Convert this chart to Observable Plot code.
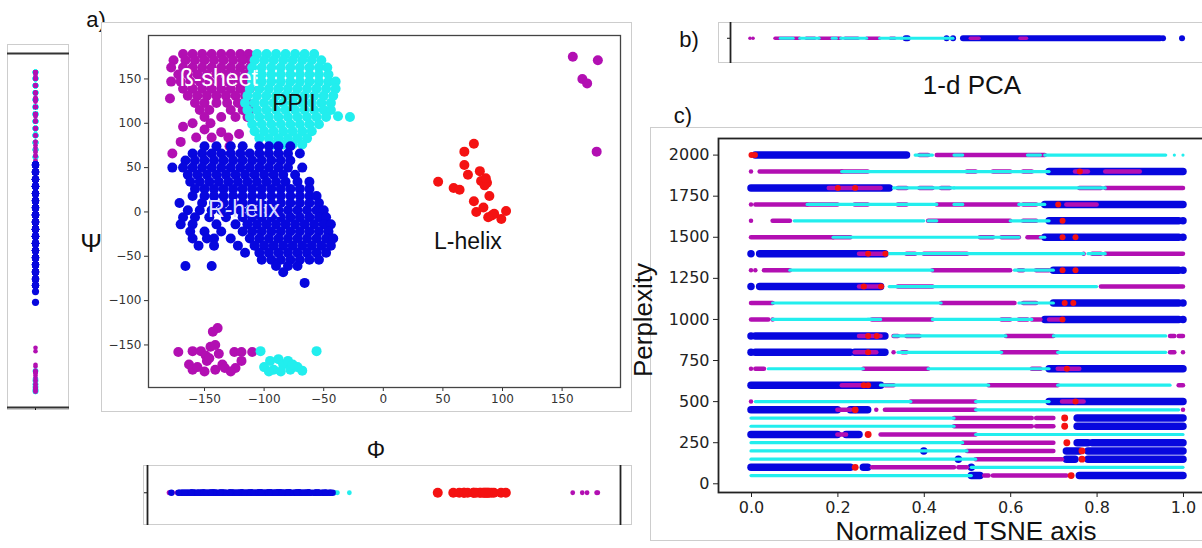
<!DOCTYPE html>
<html><head><meta charset="utf-8">
<script src="https://cdn.jsdelivr.net/npm/d3@7"></script>
<script src="https://cdn.jsdelivr.net/npm/@observablehq/plot@0.6"></script>
<style>
body{margin:0;background:#fff}
#fig{position:relative;width:1202px;height:548px;overflow:hidden;background:#fff;font-family:"Liberation Sans",Arial,Helvetica,sans-serif;color:#111}
.box{position:absolute;border:1px solid #cdcdcd;box-sizing:border-box;background:#fff}
.abs{position:absolute;line-height:0}
.abs svg{max-width:none !important}
.lbl{position:absolute;white-space:nowrap;line-height:1;transform:translate(-50%,-50%)}
</style></head><body><div id="fig"></div>
<script>
// ---------- colours per class ----------
const classColor = {B: "#b20fb2", P: "#22eeee", R: "#0707de", L: "#f41212"};

// ---------- panel a: Ramachandran (phi, psi) points ----------
// dense regions read row by row: [psi, [phi values]]
const betaRows = [
 [178, [-168,-160,-152,-144,-136,-128,-120,-113]],
 [171, [-176,-166,-158,-150,-142,-134,-126,-118,-111]],
 [163, [-178,-168,-160,-152,-144,-136,-128,-120,-112]],
 [155, [-172,-164,-156,-148,-140,-132,-124,-116]],
 [147, [-178,-170,-162,-154,-146,-138,-130,-122,-114]],
 [139, [-168,-160,-152,-144,-136,-128,-120,-112]],
 [131, [-164,-156,-148,-140,-132,-124,-116]],
 [123, [-158,-150,-140,-131,-122,-114]],
 [115, [-154,-146,-128,-118,-112]],
 [107, [-150,-136,-124,-114]]
];
const betaExtra = [[-179,128],[-177,66],[-170,79],[-168,96],[-160,100],[-157,84],[-150,93],[-144,84],[-136,90],[-130,84],[-121,88],[-129,74],[-145,100],
 [159,175],[180,171],[167,150],[171,145],[179,68],
 [-172,-158],[-160,-157],[-153,-157],[-149,-162],[-145,-152],[-141,-150],[-139,-131],[-143,-135],[-148,-168],[-141,-178],[-150,-180],[-160,-178],
 [-163,-172],[-156,-175],[-135,-172],[-133,-176],[-125,-158],[-119,-158],[-110,-158],[-119,-168],[-124,-176],[-128,-180],[-146,-165],[-138,-160]];
const ppiiRows = [
 [178, [-106,-98,-90,-82,-74,-66,-58]],
 [171, [-108,-100,-92,-84,-76,-68,-60,-52]],
 [163, [-110,-102,-94,-86,-78,-70,-62,-54,-47]],
 [155, [-110,-102,-94,-86,-78,-70,-62,-54,-46]],
 [147, [-110,-102,-94,-86,-78,-70,-62,-54,-46,-40]],
 [139, [-112,-104,-96,-88,-80,-72,-64,-56,-48,-40]],
 [131, [-114,-106,-98,-90,-82,-74,-66,-58,-50,-42]],
 [123, [-116,-108,-100,-92,-84,-76,-68,-60,-52,-44]],
 [115, [-114,-106,-98,-90,-82,-74,-66,-58,-50,-44]],
 [107, [-112,-104,-96,-88,-80,-72,-64,-56,-48]],
 [99, [-110,-102,-94,-86,-78,-70,-62,-54]],
 [91, [-108,-100,-92,-84,-76,-68,-60]],
 [83, [-104,-96,-88,-80,-72,-64]],
 [76, [-92,-84,-76,-68]]
];
const ppiiExtra = [[-38,108],[-28,107],
 [-103,-157],[-100,-175],[-95,-168],[-92,-178],[-88,-166],[-84,-172],[-80,-168],[-78,-178],[-72,-175],[-68,-179],[-86,-180],[-96,-180],[-76,-172],[-56,-157]];
const rhelixRows = [
 [74, [-150,-140,-128,-118,-104,-96,-88,-78]],
 [66, [-160,-152,-144,-136,-128,-120,-112,-104,-96,-88,-80,-70]],
 [58, [-166,-158,-150,-142,-134,-126,-118,-110,-102,-94,-86,-78]],
 [50, [-177,-168,-160,-152,-144,-136,-128,-120,-112,-104,-96,-88,-80,-68]],
 [42, [-164,-156,-148,-140,-132,-124,-116,-108,-100,-92,-84,-74]],
 [34, [-162,-154,-146,-138,-130,-122,-114,-106,-98,-90,-82,-72,-62]],
 [26, [-158,-150,-142,-134,-126,-118,-110,-102,-94,-86,-78,-70,-62]],
 [18, [-160,-150,-142,-134,-126,-118,-110,-102,-94,-86,-78,-70,-62,-56]],
 [10, [-171,-152,-142,-134,-126,-118,-110,-102,-94,-86,-78,-70,-62,-54]],
 [2, [-164,-154,-144,-136,-128,-120,-112,-104,-96,-88,-80,-72,-64,-56,-50]],
 [-6, [-168,-158,-146,-132,-118,-110,-102,-94,-86,-78,-70,-62,-54,-48]],
 [-14, [-170,-160,-140,-124,-114,-106,-98,-90,-82,-74,-66,-58,-50,-44]],
 [-22, [-162,-150,-136,-118,-110,-102,-94,-86,-78,-70,-62,-54,-46]],
 [-30, [-160,-148,-142,-128,-112,-104,-96,-88,-80,-72,-64,-56,-48,-42]],
 [-38, [-155,-142,-122,-108,-100,-92,-84,-76,-68,-60,-52,-44]],
 [-46, [-116,-104,-96,-88,-80,-72,-64,-56,-48]],
 [-54, [-102,-94,-86,-78,-70,-62,-54]],
 [-61, [-166,-144,-90,-80,-72]],
 [-68, [-84]],
 [-80, [-66]]
];
const lhelixPoints = [[46,34],[59,27],[64,25],[68,68],[76,77],[68,53],[71,42],[81,46],[82,35],[85,30],[87,33],[89,18],[76,12],[78,0],[84,5],[91,-4],[93,-2],[99,-8],[103,1],[88,-6],[86,38]];

const regionLabels = [
 {text: "ß-sheet", phi: -138, psi: 150, tone: "light"},
 {text: "PPII", phi: -75, psi: 122, tone: "dark"},
 {text: "R-helix", phi: -117, psi: 3, tone: "pale"},
 {text: "L-helix", phi: 71, psi: -33, tone: "dark"}
];
const phiTicks = [-150,-100,-50,0,50,100,150];
const psiTicks = [-150,-100,-50,0,50,100,150];

// ---------- panel b: 1-d PCA segments [start, end, class] ----------
const pcaSegments = [
 [-1.0,-1.0,"B"],[-0.986,-0.986,"B"],
 [-0.884,-0.77,"B"],[-0.86,-0.8,"P"],[-0.77,-0.68,"P"],[-0.74,-0.7,"B"],[-0.68,-0.58,"B"],[-0.62,-0.6,"P"],
 [-0.58,-0.46,"P"],[-0.56,-0.5,"B"],[-0.46,-0.4,"B"],[-0.4,-0.3,"P"],[-0.35,-0.33,"B"],[-0.3,-0.06,"P"],
 [-0.28,-0.27,"R"],[-0.09,-0.09,"R"],[-0.06,-0.06,"R"],[-0.014,0.898,"R"],[0.02,0.06,"B"],[0.25,0.28,"B"],
 [0.912,0.912,"R"],[1.0,1.0,"R"]
];

// ---------- panel c: TSNE rows [perplexity, start, end, class] ----------
const perplexityTicks = [0,250,500,750,1000,1250,1500,1750,2000];
const tsneTicks = [0,0.2,0.4,0.6,0.8,1.0];
const tsneSegments = [
 [2000,0.01,0.36,"R"],[2000,0.38,0.42,"P"],[2000,0.39,0.41,"B"],[2000,0.43,0.68,"B"],[2000,0.47,0.49,"P"],[2000,0.64,0.67,"P"],[2000,0.68,0.96,"P"],[2000,0.98,0.98,"P"],[2000,1.0,1.0,"P"],
 [1900,0,0,"B"],[1900,0.02,0.21,"B"],[1900,0.21,0.27,"B"],[1900,0.21,0.69,"P"],[1900,0.5,0.52,"B"],[1900,0.56,0.6,"B"],[1900,0.63,0.65,"B"],[1900,0.69,1.0,"R"],[1900,0.75,0.78,"B"],[1900,0.82,0.9,"B"],
 [1800,0,0.32,"R"],[1800,0.18,0.3,"B"],[1800,0.33,0.47,"P"],[1800,0.34,0.36,"B"],[1800,0.39,0.42,"B"],[1800,0.44,0.46,"B"],[1800,0.47,0.82,"P"],[1800,0.76,0.81,"B"],[1800,0.82,1.0,"B"],
 [1700,0,0,"B"],[1700,0.01,0.13,"B"],[1700,0.13,0.43,"P"],[1700,0.13,0.2,"B"],[1700,0.24,0.27,"B"],[1700,0.34,0.36,"B"],[1700,0.43,0.62,"B"],[1700,0.47,0.49,"P"],[1700,0.62,0.68,"P"],[1700,0.63,0.66,"B"],[1700,0.68,1.0,"R"],[1700,0.73,0.8,"B"],
 [1600,0,0,"B"],[1600,0.05,0.09,"B"],[1600,0.1,0.4,"P"],[1600,0.41,0.6,"B"],[1600,0.41,0.43,"P"],[1600,0.6,0.69,"P"],[1600,0.63,0.66,"B"],[1600,0.69,0.99,"R"],[1600,1.0,1.0,"R"],
 [1500,0,0.19,"B"],[1500,0.19,0.23,"B"],[1500,0.19,0.62,"P"],[1500,0.53,0.56,"B"],[1500,0.58,0.62,"B"],[1500,0.64,0.67,"B"],[1500,0.67,0.68,"P"],[1500,0.68,0.99,"R"],[1500,1.0,1.0,"R"],
 [1400,0,0,"R"],[1400,0.02,0.31,"R"],[1400,0.25,0.31,"B"],[1400,0.32,0.77,"P"],[1400,0.36,0.38,"B"],[1400,0.4,0.5,"B"],[1400,0.77,0.77,"B"],[1400,0.78,0.82,"P"],[1400,0.79,0.81,"B"],[1400,0.82,1.0,"B"],
 [1300,0,0,"B"],[1300,0.01,0.01,"B"],[1300,0.03,0.09,"B"],[1300,0.09,0.42,"P"],[1300,0.42,0.6,"B"],[1300,0.61,0.7,"P"],[1300,0.62,0.63,"B"],[1300,0.66,0.69,"B"],[1300,0.7,0.99,"R"],[1300,1.0,1.0,"R"],
 [1200,0,0,"R"],[1200,0.02,0.3,"R"],[1200,0.25,0.3,"B"],[1200,0.32,0.8,"P"],[1200,0.34,0.42,"B"],[1200,0.81,1.0,"B"],
 [1100,0,0.05,"B"],[1100,0.05,0.44,"P"],[1100,0.44,0.61,"B"],[1100,0.62,0.7,"P"],[1100,0.63,0.66,"B"],[1100,0.7,0.99,"R"],[1100,1.0,1.0,"R"],
 [1000,0,0.04,"B"],[1000,0.05,0.05,"B"],[1000,0.05,0.28,"P"],[1000,0.28,0.42,"B"],[1000,0.27,0.3,"P"],[1000,0.42,0.65,"P"],[1000,0.58,0.6,"B"],[1000,0.62,0.64,"B"],[1000,0.65,0.67,"B"],[1000,0.68,0.99,"R"],[1000,0.69,0.72,"B"],[1000,1.0,1.0,"R"],
 [900,0,0,"R"],[900,0.01,0.31,"R"],[900,0.25,0.3,"B"],[900,0.33,0.59,"P"],[900,0.33,0.34,"B"],[900,0.36,0.39,"B"],[900,0.59,0.7,"B"],[900,0.7,0.96,"P"],[900,0.97,0.98,"B"],[900,0.99,1.0,"B"],
 [800,0,0,"R"],[800,0.01,0.23,"R"],[800,0.24,0.31,"R"],[800,0.24,0.29,"B"],[800,0.33,0.33,"B"],[800,0.35,0.36,"B"],[800,0.34,0.58,"P"],[800,0.58,0.71,"B"],[800,0.71,0.96,"P"],[800,0.97,0.98,"B"],[800,1.0,1.0,"B"],
 [700,0,0,"B"],[700,0.01,0.03,"B"],[700,0.04,0.26,"P"],[700,0.26,0.41,"B"],[700,0.41,0.69,"P"],[700,0.65,0.67,"B"],[700,0.69,1.0,"R"],[700,0.71,0.76,"B"],
 [600,0,0.3,"R"],[600,0.21,0.27,"B"],[600,0.3,0.55,"P"],[600,0.31,0.33,"B"],[600,0.55,0.71,"B"],[600,0.71,0.97,"P"],[600,0.99,1.0,"B"],
 [500,0,0,"B"],[500,0.01,0.37,"P"],[500,0.37,0.52,"B"],[500,0.52,0.69,"P"],[500,0.69,1.0,"R"],[500,0.72,0.77,"B"],
 [450,0,0.2,"R"],[450,0.2,0.23,"B"],[450,0.23,0.27,"R"],[450,0.29,0.29,"B"],[450,0.31,0.52,"B"],[450,0.52,0.99,"P"],[450,1.0,1.0,"B"],
 [400,0,0.47,"P"],[400,0.47,0.65,"B"],[400,0.66,0.7,"B"],[400,0.755,1.0,"R"],
 [350,0,0.47,"P"],[350,0.47,0.65,"B"],[350,0.66,0.7,"B"],[350,0.755,1.0,"R"],
 [300,0,0.2,"R"],[300,0.2,0.22,"B"],[300,0.22,0.25,"R"],[300,0.3,0.52,"B"],[300,0.52,1.0,"P"],
 [250,0,0.49,"P"],[250,0.49,0.7,"B"],[250,0.755,0.78,"R"],[250,0.79,1.0,"R"],
 [200,0,0.5,"P"],[200,0.4,0.4,"R"],[200,0.5,0.7,"B"],[200,0.73,0.76,"R"],[200,0.78,1.0,"R"],
 [150,0,0.52,"P"],[150,0.48,0.48,"R"],[150,0.52,0.72,"B"],[150,0.73,0.75,"R"],[150,0.78,1.0,"R"],
 [100,0,0.23,"R"],[100,0.26,0.27,"R"],[100,0.28,0.47,"B"],[100,0.48,0.5,"B"],[100,0.51,0.51,"R"],[100,0.51,1.0,"P"],
 [50,0,0.51,"P"],[50,0.51,0.53,"R"],[50,0.54,0.55,"B"],[50,0.56,0.73,"B"],[50,0.76,1.0,"R"]
];
// L-helix members in TSNE rows [perplexity, position]
const tsneLhelix = [[2000,0.0],[2000,0.008],[1900,0.76],[1800,0.2],[1800,0.24],[1700,0.71],[1600,0.72],[1500,0.72],[1500,0.75],[1400,0.27],[1400,0.31],
 [1300,0.72],[1300,0.75],[1200,0.26],[1200,0.3],[1100,0.725],[1100,0.745],[1000,0.72],[900,0.27],[900,0.29],[800,0.27],[700,0.73],[600,0.26],[600,0.27],
 [500,0.75],[450,0.24],[400,0.725],[350,0.725],[300,0.27],[250,0.73],[200,0.765],[150,0.765],[100,0.24],[50,0.74]];

// ---------- build tables ----------
const fromRows = rows => rows.flatMap(([psi, phis]) => phis.map(phi => [phi, psi]));
const betaPoints = fromRows(betaRows).concat(betaExtra);
const ppiiPoints = fromRows(ppiiRows).concat(ppiiExtra);
const rhelixPoints = fromRows(rhelixRows);
const groups = [["B", betaPoints], ["P", ppiiPoints], ["R", rhelixPoints], ["L", lhelixPoints]];
const byClass = Object.fromEntries(groups);

const fig = document.getElementById("fig");
function addBox(l, t, w, h) { const d = document.createElement("div"); d.className = "box"; Object.assign(d.style, {left: l+"px", top: t+"px", width: w+"px", height: h+"px"}); fig.appendChild(d); }
function addPlot(el, l, t, w) { const d = document.createElement("div"); d.className = "abs"; d.style.left = l+"px"; d.style.top = t+"px"; d.style.width = w+"px"; d.appendChild(el); fig.appendChild(d); }
function addText(txt, cx, cy, size, extra) { const d = document.createElement("div"); d.className = "lbl"; d.textContent = txt; Object.assign(d.style, {left: cx+"px", top: cy+"px", fontSize: size+"px"}, extra || {}); fig.appendChild(d); }

const phiDomain = [-197, 199], psiDomain = [-198, 199];
const tone = {light: "#ffffff", dark: "#111111", pale: "#dcdcff"};
const baseStyle = {background: "transparent", overflow: "visible", maxWidth: "none"};

// label under box a
addText("a)", 96, 20, 22);

// ----- panel a main -----
addBox(101, 22, 531, 390);
const mainPlot = Plot.plot({
  width: 531, height: 390, marginLeft: 47, marginRight: 12, marginTop: 13, marginBottom: 25,
  style: {...baseStyle, fontFamily: "DejaVu Sans", fontSize: "12px", color: "#333"},
  x: {domain: phiDomain, ticks: phiTicks, tickSize: 4, tickPadding: 3, label: null},
  y: {domain: psiDomain, ticks: psiTicks, tickSize: 4, tickPadding: 3, label: null},
  marks: [
    ...groups.map(([c, pts]) => Plot.dot(pts, {x: d => d[0], y: d => d[1], r: 5, fill: classColor[c]})),
    Plot.text(regionLabels, {x: "phi", y: "psi", text: "text", fill: d => tone[d.tone], fontSize: 23, fontFamily: "Liberation Sans, Arial, sans-serif"}),
    Plot.frame({stroke: "#444", strokeWidth: 1.3})
  ]
});
addPlot(mainPlot, 101, 22, 531);
addText("Ψ", 91, 243, 26);
addText("Φ", 376, 450, 23);

// ----- left strip (psi) -----
addBox(7, 44, 62, 366);
const leftStrip = Plot.plot({
  width: 62, height: 366, marginLeft: 0, marginRight: 0, marginTop: 9, marginBottom: 3,
  style: baseStyle,
  x: {domain: [-1, 1.214], ticks: [0], tickSize: 3, tickFormat: () => "", label: null},
  y: {domain: psiDomain, axis: null},
  marks: [
    ...["L", "P", "B", "R"].map(c => Plot.dot(byClass[c], {x: 0, y: d => d[1], r: c === "R" ? 3.6 : c === "P" ? 2.8 : 2.3, fill: classColor[c]})),
    Plot.ruleY([psiDomain[1], psiDomain[0]], {stroke: "#333", strokeWidth: 1.8})
  ]
});
addPlot(leftStrip, 7, 44, 62);

// ----- bottom strip (phi) -----
addBox(143, 465, 489, 60);
const bottomStrip = Plot.plot({
  width: 489, height: 60, marginLeft: 4, marginRight: 12, marginTop: 0, marginBottom: 0,
  style: baseStyle,
  x: {domain: phiDomain, axis: null},
  y: {domain: [-1.2, 1], ticks: [0], tickSize: 3, tickFormat: () => "", label: null},
  marks: [
    ...["B", "P", "R", "L"].map(c => Plot.dot(byClass[c], {x: d => d[0], y: 0, r: c === "L" ? 5 : c === "R" ? 3.2 : 2.4, fill: classColor[c]})),
    Plot.ruleX(phiDomain, {stroke: "#222", strokeWidth: 1.8})
  ]
});
addPlot(bottomStrip, 143, 465, 489);

// ----- panel b: 1-d PCA -----
addText("b)", 689, 40, 22);
addBox(718, 22, 500, 41);
const pcaPlot = Plot.plot({
  width: 498, height: 41, marginLeft: 12, marginRight: 2, marginTop: 0, marginBottom: 0,
  style: baseStyle,
  x: {domain: [-1.0926, 1.148], axis: null},
  y: {domain: [-1.6, 1], ticks: [0], tickSize: 3, tickFormat: () => "", label: null},
  marks: [
    Plot.ruleY(pcaSegments.filter(d => d[2] === "R"), {y: 0, x1: d => d[0], x2: d => d[1], stroke: classColor.R, strokeWidth: 6, strokeLinecap: "round"}),
    Plot.ruleY(pcaSegments.filter(d => d[2] === "B"), {y: 0, x1: d => d[0], x2: d => d[1], stroke: classColor.B, strokeWidth: 3.6, strokeLinecap: "round"}),
    Plot.ruleY(pcaSegments.filter(d => d[2] === "P"), {y: 0, x1: d => d[0], x2: d => d[1], stroke: classColor.P, strokeWidth: 3, strokeLinecap: "round"}),
    Plot.ruleX([-1.0926], {stroke: "#222", strokeWidth: 1.8})
  ]
});
addPlot(pcaPlot, 718, 22, 498);
addText("1-d PCA", 972, 85, 26);

// ----- panel c: TSNE -----
addText("c)", 683, 116, 22);
addBox(650, 127, 560, 414);
const segStyle = {R: 7.5, B: 4.5, P: 3.2};
const tsnePlot = Plot.plot({
  width: 566, height: 414, marginLeft: 68, marginRight: 2, marginTop: 11, marginBottom: 49,
  style: {...baseStyle, fontFamily: "DejaVu Sans", fontSize: "16px", color: "#222"},
  x: {domain: [-0.0764, 1.0718], ticks: tsneTicks, tickFormat: d3.format(".1f"), tickSize: 5, tickPadding: 4, label: null},
  y: {domain: [-53, 2101], ticks: perplexityTicks, tickFormat: d3.format("d"), tickSize: 5, tickPadding: 4, label: null},
  marks: [
    ...["R", "B", "P"].map(c => Plot.ruleY(tsneSegments.filter(d => d[3] === c), {y: d => d[0], x1: d => d[1], x2: d => d[2], stroke: classColor[c], strokeWidth: segStyle[c], strokeLinecap: "round"})),
    Plot.dot(tsneLhelix, {x: d => d[1], y: d => d[0], r: d => d[0] < 500 ? 5.5 : 4.2, fill: classColor.L}),
    Plot.frame({stroke: "#222", strokeWidth: 1.8})
  ]
});
addPlot(tsnePlot, 650, 127, 566);
addText("Perplexity", 643, 320, 26, {transform: "translate(-50%,-50%) rotate(-90deg)"});
addText("Normalized TSNE axis", 966, 531, 26);
</script></body></html>
